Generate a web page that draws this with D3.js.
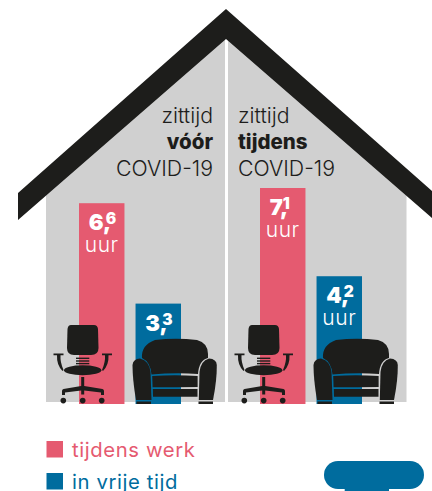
<!DOCTYPE html>
<html><head><meta charset="utf-8">
<style>html,body{margin:0;padding:0;background:#fff;overflow:hidden}svg{display:block}text{font-family:Inter,sans-serif}</style>
<script src="https://cdn.jsdelivr.net/npm/d3@7/dist/d3.min.js"></script>
</head><body><svg id="c" width="432" height="491"></svg>
<script>
const panels = ["voor", "tijdens"];
const seriesNames = ["tijdens werk", "in vrije tijd"];
const werk = [6.6, 7.1];
const vrij = [3.3, 4.2];
const titleLines = [["zittijd", "vóór", "COVID-19"], ["zittijd", "tijdens", "COVID-19"]];
const unit = "uur";

const PINK = "#e55a70", BLUE = "#006c9e", GREY = "#d0d0d0", BLACK = "#1d1d1b";
const svg = d3.select("#c");
const y = d3.scaleLinear().domain([0, 7.1]).range([404, 188]);
const panelX = d3.scaleOrdinal().domain(panels).range([0, 181]);
const barX = d3.scaleBand().domain(seriesNames).range([79, 181]).paddingInner(10 / 51).paddingOuter(0);

// house
svg.append("polygon").attr("points", "46,402 46,180 225,39 225,402").attr("fill", GREY);
svg.append("polygon").attr("points", "228,402 228,39 406.5,180 406.5,402").attr("fill", GREY);

// bars
panels.forEach((p, i) => {
  const g = svg.append("g").attr("transform", `translate(${panelX(p)},0)`);
  const vals = [werk[i], vrij[i]];
  g.selectAll("rect").data(vals).join("rect")
    .attr("x", (d, j) => barX(seriesNames[j]))
    .attr("width", barX.bandwidth())
    .attr("y", d => y(d))
    .attr("height", d => y(0) - y(d))
    .attr("fill", (d, j) => j ? BLUE : PINK);

  vals.forEach((v, j) => {
    const cx = barX(seriesNames[j]) + barX.bandwidth() / 2;
    const [a, b] = v.toFixed(1).split(".");
    const t = g.append("text").attr("x", cx - 13).attr("y", y(v) + 27)
      .attr("fill", "#fff").attr("font-weight", 900);
    t.append("tspan").attr("font-size", 22).text(a + ",");
    t.append("tspan").attr("font-size", 15.5).attr("dx", -5.5).attr("dy", -6).text(b);
    if (!(i === 0 && j === 1)) {
      g.append("text").attr("x", cx).attr("y", y(v) + 49).attr("text-anchor", "middle")
        .attr("fill", "#fff").attr("font-size", 21).attr("font-weight", 300).attr("letter-spacing", 0.6).text(unit);
    }
  });

  // chair
  const ch = g.append("g").attr("fill", BLACK);
  ch.append("path").attr("d", "M71,325 L94,325 Q97.5,325 98,329 L98.5,348 Q98.5,355 91,355 L74,355 Q67,355 67,348 L67.5,329 Q68,325 71,325Z");
  [358.3, 361, 363.6].forEach(sy => ch.append("rect").attr("x", 76).attr("y", sy - 0.7).attr("width", 13.3).attr("height", 1.4));
  ch.append("ellipse").attr("cx", 82.7).attr("cy", 370.3).attr("rx", 18.7).attr("ry", 5);
  ch.append("path").attr("d", "M53.5,353.5 H63.5 V355.3 H60.5 Q60,362 63.5,370 L62.5,371 Q56.5,365 57,355.3 H53.5Z");
  ch.append("path").attr("d", "M112,353.5 H102 V355.3 H105 Q105.5,362 102,370 L103,371 Q109,365 108.5,355.3 H112Z");
  ch.append("path").attr("d", "M81.2,377 H84.2 V386 L102.5,389 Q104,389.5 104,391 V395 H101 V392.5 L84.2,390.5 V394.5 H81.2 V390.5 L65,392.5 V395 H62 V391 Q62,389.5 63.5,389 L81.2,386Z");
  [63.3, 82.7, 101.7].forEach(cx2 => ch.append("circle").attr("cx", cx2).attr("cy", 400.6).attr("r", 2.8));

  // sofa
  const so = g.append("g").attr("fill", BLACK);
  so.append("path").attr("d", "M142,358 Q141,345 155,340 Q176,337.5 197,340 Q208,343 208,354 L208,358 Q199,360 198,374 Q175,372.5 151.5,374.5 Q150.5,362 142,358Z");
  so.append("path").attr("d", "M132.5,365 Q133,359 140,358.5 Q149.5,361 150.5,372 L151.5,400 L136,400 Q132.5,380 132.5,365Z");
  so.append("path").attr("d", "M216.8,365 Q216.5,359 209,358.5 Q200.5,361 199.5,372 L198.8,400 L213,400 Q217,380 216.8,365Z");
  so.append("path").attr("d", "M152.2,376 Q175,374.5 197.6,376 V387 Q175,387.3 152.6,387.3Z");
  so.append("path").attr("d", "M152.8,389 Q175,388.8 197.5,389 V396.8 H153Z");
  so.append("rect").attr("x", 136.5).attr("y", 401.5).attr("width", 14.5).attr("height", 2.5);
  so.append("rect").attr("x", 198.5).attr("y", 401.5).attr("width", 14.5).attr("height", 2.5);
});

// roof + divider
svg.append("rect").attr("x", 225).attr("y", 39).attr("width", 3).attr("height", 363).attr("fill", "#fff");
svg.append("polygon").attr("points", "226,9 18,193 18,220 226,39 432,218 432,191").attr("fill", BLACK);

// titles
const bl = [123, 149, 175.5];
titleLines.forEach((lines, i) => {
  lines.forEach((l, k) => {
    svg.append("text").attr("x", i ? 238 : 213).attr("y", bl[k])
      .attr("text-anchor", i ? "start" : "end")
      .attr("fill", BLACK)
      .attr("font-size", k === 1 ? 20.5 : 21.3)
      .attr("font-weight", k === 1 ? 800 : 300)
      .text(l);
  });
});

// legend
const ly = d3.scalePoint().domain(seriesNames).range([441, 473]);
seriesNames.forEach((s, i) => {
  const c = i ? BLUE : PINK;
  svg.append("rect").attr("x", 46.5).attr("y", ly(s)).attr("width", 16.5).attr("height", 16.5).attr("fill", c);
  svg.append("text").attr("x", 72).attr("y", ly(s) + 16).attr("fill", c).attr("font-size", 20.3).attr("letter-spacing", 0.6).text(s);
});

// blue pill
svg.append("rect").attr("x", 324).attr("y", 461).attr("width", 100).attr("height", 28).attr("rx", 14).attr("fill", BLUE);
svg.append("rect").attr("x", 344.7).attr("y", 485).attr("width", 44.3).attr("height", 6).attr("fill", BLUE);
</script></body></html>
